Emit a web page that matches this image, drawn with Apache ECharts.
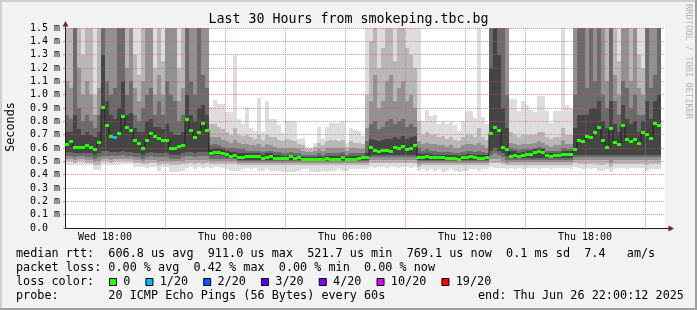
<!DOCTYPE html>
<html><head><meta charset="utf-8">
<script src="https://cdn.jsdelivr.net/npm/echarts@6/dist/echarts.min.js"></script>
<style>html,body{margin:0;padding:0;background:#f2f2f2}#c{width:697px;height:310px}</style>
</head><body><div id="c"></div>
<script>
// ---- data: one column = 12 minutes, starting Wed 16:00 ----
const median = [0.63,0.653,0.61,0.61,0.61,0.625,0.607,0.59,0.645,0.911,
 0.775,0.69,0.685,0.715,0.842,0.757,0.735,0.66,0.64,0.60,
 0.66,0.71,0.69,0.677,0.657,0.657,0.60,0.60,0.615,0.625,
 0.817,0.735,0.68,0.72,0.787,0.735,0.56,0.57,0.57,0.56,
 0.558,0.543,0.548,0.535,0.532,0.537,0.537,0.537,0.537,0.522,
 0.535,0.537,0.522,0.522,0.522,0.522,0.537,0.525,0.532,0.52,
 0.52,0.52,0.52,0.518,0.52,0.522,0.52,0.52,0.52,0.532,
 0.52,0.518,0.52,0.522,0.532,0.53,0.61,0.585,0.578,0.583,
 0.588,0.578,0.605,0.603,0.615,0.593,0.598,0.622,0.535,0.535,
 0.537,0.532,0.53,0.53,0.532,0.527,0.525,0.525,0.521,0.53,
 0.532,0.537,0.53,0.525,0.525,0.532,0.71,0.76,0.735,0.61,
 0.59,0.537,0.55,0.543,0.55,0.555,0.555,0.57,0.578,0.57,
 0.545,0.543,0.55,0.55,0.557,0.557,0.557,0.59,0.66,0.65,
 0.69,0.682,0.72,0.757,0.662,0.61,0.752,0.647,0.632,0.77,
 0.665,0.655,0.667,0.637,0.72,0.707,0.677,0.785,0.769];
const loss = [0,0,0,0,0,0,0,0,0,0, 0,0,1,0,0,0,0,0,0,0, 0,0,0,0,0,0,0,0,0,0,
 0,0,0,0,0,0,0,0,0,0, 0,0,0,0,0,0,0,0,0,0, 0,0,0,0,0,0,0,0,0,0,
 0,0,0,0,0,0,0,0,0,0, 0,0,0,0,0,0,0,0,0,0, 0,0,0,0,0,0,0,0,0,0,
 0,0,0,0,0,0,0,0,0,0, 0,0,0,0,0,0,0,0,0,0, 0,0,0,0,0,0,0,0,0,0,
 0,0,0,0,0,0,0,0,0,0, 0,0,0,0,0,0,0,0,0,0, 0,0,0,0,0,0,0,0,0];
// smoke bands, outermost (1, lightest) to innermost (5, darkest): upper edges
const hi1 = [1.5,1.5,1.5,1.5,1.5,1.5,1.5,1.5,1.5,1.5,
 1.5,1.5,1.5,1.5,1.5,1.5,1.5,1.5,1.5,1.5,
 1.5,1.5,1.5,1.5,1.5,1.5,1.5,1.5,1.5,1.5,
 1.5,1.5,1.5,1.5,1.5,1.5,0.905,0.96,0.93,0.93,
 0.87,0.87,1.30,0.82,0.78,0.905,0.75,0.73,0.975,0.72,
 0.95,0.82,0.82,0.77,0.71,0.8,0.8,0.8,0.67,0.675,
 0.61,0.6,0.64,0.755,0.67,0.76,0.79,0.79,0.79,0.8,
 0.64,0.75,0.735,0.73,0.69,1.5,1.5,1.5,1.5,1.5,
 1.5,1.5,1.5,1.5,1.5,1.5,1.5,1.5,1.5,0.805,
 0.885,0.84,0.85,0.78,0.805,0.78,0.805,0.77,0.73,0.805,
 0.88,0.875,0.825,1.5,0.83,0.78,1.5,1.5,1.5,1.5,
 1.5,0.97,0.97,0.88,0.955,0.92,0.885,0.87,0.99,0.99,
 0.88,0.785,0.88,0.88,1.5,0.92,0.9,1.5,1.5,1.5,
 1.5,1.5,1.5,1.5,1.5,1.5,1.5,1.5,1.5,1.5,
 1.5,1.5,1.5,1.5,1.5,1.5,1.5,1.5,1.5];
const hi2 = [1.5,1.5,1.5,1.5,1.3,1.5,1.5,1.0,1.5,1.5,
 1.5,1.5,1.5,1.5,1.5,1.5,1.5,1.3,1.15,1.5,
 1.5,1.5,1.2,1.5,1.25,1.5,1.5,1.5,1.2,1.5,
 1.5,1.5,1.5,1.5,1.5,1.5,0.78,0.78,0.76,0.74,
 0.72,0.7,0.75,0.7,0.69,0.7,0.68,0.67,0.7,0.66,
 0.7,0.68,0.68,0.66,0.65,0.67,0.66,0.65,0.63,0.62,
 0.59,0.59,0.61,0.64,0.62,0.65,0.66,0.66,0.65,0.66,
 0.61,0.65,0.64,0.64,0.63,1.0,1.4,1.5,1.2,1.35,
 1.5,1.5,1.25,1.5,1.5,1.35,1.3,1.2,0.8,0.7,
 0.72,0.7,0.7,0.68,0.69,0.67,0.68,0.66,0.65,0.68,
 0.7,0.7,0.68,0.75,0.68,0.66,1.5,1.5,1.5,1.5,
 1.5,0.72,0.7,0.68,0.7,0.7,0.7,0.7,0.72,0.72,
 0.68,0.67,0.68,0.68,0.75,0.7,0.7,1.5,1.5,1.5,
 1.5,1.5,1.5,1.5,1.5,1.5,1.5,1.5,1.25,1.5,
 1.5,1.5,1.5,1.3,1.2,1.5,1.5,1.5,1.5];
const hi3 = [1.1,1.05,1.5,1.2,1.0,1.1,1.0,0.85,1.05,1.5,
 1.5,1.5,1.5,1.5,1.5,1.2,1.5,1.05,0.95,1.1,
 1.5,1.5,1.0,1.15,1.0,1.5,1.5,1.5,0.95,1.05,
 1.5,1.5,1.5,1.5,1.5,1.5,0.68,0.68,0.68,0.66,
 0.65,0.64,0.66,0.64,0.63,0.63,0.62,0.62,0.63,0.61,
 0.63,0.62,0.61,0.6,0.6,0.6,0.6,0.6,0.59,0.58,
 0.57,0.57,0.58,0.59,0.58,0.6,0.6,0.6,0.6,0.6,
 0.58,0.6,0.6,0.59,0.59,0.75,0.95,1.15,0.9,0.95,
 1.1,1.15,0.95,1.05,1.1,0.95,1.0,0.9,0.65,0.63,
 0.64,0.63,0.63,0.62,0.62,0.61,0.62,0.6,0.6,0.62,
 0.63,0.63,0.62,0.64,0.62,0.6,1.5,1.5,1.5,1.5,
 1.5,0.64,0.63,0.62,0.63,0.63,0.63,0.64,0.65,0.64,
 0.62,0.61,0.62,0.62,0.66,0.63,0.63,1.5,1.5,1.5,
 1.5,1.5,1.5,1.5,1.5,1.1,1.5,1.15,1.0,1.5,
 1.5,1.1,1.5,1.05,1.0,1.5,1.5,1.5,1.5];
const hi4 = [0.85,0.82,1.5,0.9,0.8,0.85,0.8,0.75,0.85,1.5,
 1.1,1.0,1.05,1.5,1.5,1.0,1.1,0.85,0.8,0.9,
 1.0,1.05,0.85,0.95,0.85,1.1,1.0,0.95,0.8,0.85,
 1.5,1.1,1.0,1.5,1.15,1.05,0.62,0.63,0.62,0.61,
 0.6,0.6,0.6,0.59,0.59,0.58,0.58,0.58,0.58,0.57,
 0.58,0.58,0.57,0.57,0.56,0.56,0.57,0.56,0.56,0.55,
 0.55,0.55,0.55,0.56,0.55,0.56,0.56,0.56,0.56,0.57,
 0.55,0.56,0.56,0.56,0.56,0.65,0.78,0.8,0.74,0.76,
 0.8,0.82,0.78,0.8,0.82,0.76,0.78,0.76,0.6,0.58,
 0.59,0.58,0.58,0.57,0.57,0.57,0.57,0.56,0.56,0.57,
 0.58,0.58,0.57,0.58,0.57,0.56,1.5,1.5,1.5,1.5,
 1.0,0.6,0.59,0.585,0.59,0.59,0.595,0.6,0.61,0.6,
 0.58,0.58,0.58,0.58,0.6,0.59,0.59,1.0,1.5,1.5,
 1.05,1.5,1.1,1.5,1.0,0.9,1.5,0.95,0.85,1.1,
 1.05,0.9,1.0,0.85,0.85,1.5,1.05,1.15,1.5];
const hi5 = [0.72,0.72,0.85,0.74,0.7,0.72,0.7,0.68,0.72,1.3,
 0.95,0.85,0.82,0.9,1.1,0.85,0.86,0.75,0.72,0.72,
 0.8,0.82,0.76,0.76,0.74,0.78,0.72,0.7,0.7,0.72,
 1.0,0.85,0.8,0.9,0.92,0.85,0.59,0.6,0.6,0.59,
 0.58,0.57,0.57,0.56,0.56,0.56,0.56,0.56,0.56,0.55,
 0.56,0.56,0.55,0.55,0.54,0.54,0.55,0.54,0.54,0.53,
 0.53,0.53,0.53,0.54,0.53,0.54,0.54,0.54,0.54,0.55,
 0.53,0.54,0.54,0.54,0.54,0.56,0.67,0.66,0.65,0.66,
 0.67,0.67,0.68,0.67,0.69,0.67,0.68,0.69,0.56,0.555,
 0.56,0.555,0.55,0.55,0.55,0.55,0.545,0.545,0.54,0.55,
 0.555,0.555,0.55,0.55,0.55,0.55,1.2,1.5,1.3,0.9,
 0.75,0.575,0.575,0.565,0.57,0.575,0.575,0.59,0.595,0.59,
 0.565,0.56,0.565,0.565,0.575,0.575,0.575,0.75,0.85,0.85,
 0.85,0.9,0.9,0.95,0.8,0.75,0.95,0.78,0.72,0.92,
 0.82,0.78,0.8,0.72,0.8,0.95,0.82,0.95,1.0];
// lower edges
const lo1 = [0.47,0.47,0.47,0.47,0.47,0.47,0.47,0.435,0.435,0.47,
 0.47,0.47,0.47,0.47,0.48,0.48,0.48,0.46,0.46,0.46,
 0.45,0.46,0.46,0.43,0.455,0.455,0.42,0.42,0.42,0.43,
 0.45,0.46,0.44,0.46,0.45,0.46,0.45,0.455,0.455,0.45,
 0.44,0.43,0.43,0.43,0.44,0.45,0.44,0.45,0.43,0.43,
 0.44,0.43,0.43,0.43,0.42,0.42,0.42,0.42,0.425,0.44,
 0.44,0.42,0.42,0.42,0.43,0.42,0.43,0.43,0.44,0.43,
 0.43,0.44,0.44,0.44,0.44,0.44,0.46,0.45,0.46,0.46,
 0.45,0.46,0.46,0.45,0.46,0.46,0.45,0.46,0.43,0.44,
 0.43,0.44,0.43,0.44,0.42,0.43,0.44,0.43,0.42,0.43,
 0.43,0.44,0.44,0.43,0.44,0.44,0.46,0.45,0.45,0.45,
 0.44,0.45,0.44,0.45,0.44,0.45,0.45,0.45,0.44,0.45,
 0.45,0.44,0.45,0.45,0.45,0.45,0.44,0.46,0.45,0.44,
 0.45,0.44,0.45,0.43,0.43,0.44,0.42,0.44,0.45,0.45,
 0.44,0.45,0.45,0.45,0.45,0.43,0.44,0.44,0.44];
const lo2 = [0.5,0.5,0.49,0.5,0.5,0.49,0.49,0.47,0.47,0.5,
 0.5,0.49,0.5,0.5,0.5,0.5,0.5,0.49,0.49,0.48,
 0.48,0.49,0.49,0.47,0.48,0.48,0.47,0.47,0.47,0.48,
 0.48,0.49,0.48,0.49,0.48,0.49,0.48,0.48,0.48,0.48,
 0.48,0.48,0.48,0.47,0.47,0.47,0.47,0.47,0.47,0.47,
 0.47,0.47,0.47,0.47,0.47,0.47,0.47,0.47,0.47,0.47,
 0.47,0.47,0.47,0.47,0.47,0.47,0.47,0.47,0.47,0.47,
 0.47,0.47,0.47,0.47,0.47,0.47,0.49,0.49,0.49,0.49,
 0.49,0.49,0.49,0.49,0.49,0.49,0.49,0.49,0.46,0.47,
 0.47,0.47,0.47,0.47,0.47,0.47,0.47,0.47,0.47,0.47,
 0.47,0.47,0.47,0.47,0.47,0.47,0.49,0.49,0.49,0.48,
 0.47,0.475,0.475,0.475,0.475,0.475,0.475,0.475,0.475,0.475,
 0.475,0.475,0.475,0.475,0.475,0.475,0.475,0.49,0.48,0.48,
 0.48,0.48,0.48,0.47,0.47,0.48,0.46,0.48,0.48,0.48,
 0.48,0.48,0.48,0.48,0.48,0.47,0.48,0.48,0.48];
const lo3 = [0.52,0.52,0.51,0.52,0.52,0.51,0.51,0.5,0.5,0.52,
 0.52,0.51,0.52,0.52,0.52,0.52,0.52,0.51,0.51,0.5,
 0.51,0.51,0.51,0.5,0.5,0.5,0.5,0.5,0.5,0.5,
 0.51,0.51,0.51,0.51,0.51,0.51,0.5,0.5,0.5,0.5,
 0.5,0.5,0.5,0.49,0.49,0.49,0.49,0.49,0.49,0.49,
 0.49,0.49,0.49,0.49,0.49,0.49,0.49,0.49,0.49,0.49,
 0.49,0.49,0.49,0.49,0.49,0.49,0.49,0.49,0.49,0.49,
 0.49,0.49,0.49,0.49,0.49,0.49,0.51,0.51,0.51,0.51,
 0.51,0.51,0.51,0.51,0.51,0.51,0.51,0.51,0.48,0.49,
 0.49,0.49,0.49,0.49,0.49,0.49,0.49,0.49,0.49,0.49,
 0.49,0.49,0.49,0.49,0.49,0.49,0.52,0.52,0.52,0.5,
 0.49,0.495,0.495,0.495,0.495,0.495,0.495,0.495,0.495,0.495,
 0.495,0.495,0.495,0.495,0.495,0.495,0.495,0.51,0.51,0.51,
 0.51,0.51,0.51,0.51,0.51,0.51,0.49,0.51,0.51,0.51,
 0.51,0.51,0.51,0.51,0.51,0.51,0.51,0.51,0.51];
const lo4 = [0.54,0.54,0.53,0.54,0.54,0.53,0.53,0.52,0.53,0.54,
 0.54,0.54,0.54,0.54,0.55,0.54,0.54,0.53,0.53,0.52,
 0.53,0.54,0.53,0.53,0.53,0.53,0.52,0.52,0.52,0.53,
 0.54,0.54,0.53,0.54,0.54,0.54,0.515,0.515,0.515,0.515,
 0.515,0.515,0.515,0.5,0.5,0.5,0.5,0.5,0.5,0.5,
 0.5,0.5,0.5,0.5,0.5,0.5,0.5,0.5,0.5,0.5,
 0.5,0.5,0.5,0.5,0.5,0.5,0.5,0.5,0.5,0.5,
 0.5,0.5,0.5,0.5,0.5,0.5,0.53,0.53,0.53,0.53,
 0.53,0.53,0.53,0.53,0.53,0.53,0.53,0.53,0.5,0.5,
 0.5,0.5,0.5,0.5,0.5,0.5,0.5,0.5,0.5,0.5,
 0.5,0.5,0.5,0.5,0.5,0.5,0.55,0.56,0.55,0.53,
 0.51,0.51,0.51,0.51,0.51,0.51,0.51,0.51,0.51,0.51,
 0.51,0.51,0.51,0.51,0.51,0.51,0.51,0.53,0.53,0.53,
 0.53,0.53,0.53,0.53,0.53,0.53,0.53,0.53,0.53,0.53,
 0.53,0.53,0.53,0.53,0.53,0.53,0.53,0.53,0.53];
const lo5 = [0.57,0.57,0.56,0.56,0.56,0.56,0.56,0.55,0.56,0.58,
 0.58,0.57,0.57,0.57,0.58,0.57,0.57,0.56,0.56,0.55,
 0.56,0.57,0.56,0.56,0.56,0.56,0.55,0.55,0.55,0.56,
 0.57,0.57,0.56,0.57,0.57,0.57,0.54,0.55,0.55,0.54,
 0.535,0.525,0.525,0.51,0.51,0.51,0.51,0.51,0.51,0.51,
 0.51,0.51,0.51,0.51,0.51,0.51,0.51,0.51,0.51,0.51,
 0.51,0.51,0.51,0.51,0.51,0.51,0.51,0.51,0.51,0.51,
 0.51,0.51,0.51,0.51,0.51,0.51,0.55,0.55,0.55,0.55,
 0.55,0.55,0.55,0.55,0.55,0.55,0.55,0.55,0.51,0.51,
 0.51,0.51,0.51,0.51,0.51,0.51,0.51,0.51,0.51,0.51,
 0.51,0.51,0.51,0.51,0.51,0.51,0.58,0.6,0.58,0.56,
 0.54,0.525,0.525,0.525,0.525,0.525,0.525,0.525,0.525,0.525,
 0.525,0.525,0.525,0.525,0.525,0.525,0.525,0.55,0.55,0.55,
 0.55,0.55,0.55,0.55,0.55,0.55,0.55,0.55,0.55,0.55,
 0.55,0.55,0.55,0.55,0.55,0.55,0.55,0.55,0.55];
// axis ticks
const xTickHours = [2, 8, 14, 20, 26];
const xTickLabels = ['Wed 18:00', 'Thu 00:00', 'Thu 06:00', 'Thu 12:00', 'Thu 18:00'];
const xMajorHours = [2, 5, 8, 11, 14, 17, 20, 23, 26, 29];
const yTickLabels = ['0.0  ','0.1 m','0.2 m','0.3 m','0.4 m','0.5 m','0.6 m','0.7 m','0.8 m','0.9 m','1.0 m','1.1 m','1.2 m','1.3 m','1.4 m','1.5 m'];
// loss legend
const lossLevels = [0, 1, 2, 3, 4, 10, 19];
const lossLabels = ['0', '1/20', '2/20', '3/20', '4/20', '10/20', '19/20'];
const lossColors = ['#26ff00', '#00b8ff', '#0059ff', '#5e00ff', '#7e00ff', '#dd00ff', '#ff0000'];
// texts
const titleText = 'Last 30 Hours from smokeping.tbc.bg';
const legendLines = [
  'median rtt:  606.8 us avg  911.0 us max  521.7 us min  769.1 us now  0.1 ms sd  7.4   am/s',
  'packet loss: 0.00 % avg  0.42 % max  0.00 % min  0.00 % now',
  'loss color:',
  'probe:       20 ICMP Echo Pings (56 Bytes) every 60s'
];
const endText = 'end: Thu Jun 26 22:00:12 2025';

// ---- rendering ----
const STEP_H = 0.2;
const BAND_COLORS = ['#dddddd', '#b7b7b7', '#919191', '#6b6b6b', '#454545'];
const MONO = 'DejaVu Sans Mono';
function lossColor(n) {
  let c = lossColors[0];
  for (let i = 0; i < lossLevels.length; i++) if (n >= lossLevels[i]) c = lossColors[i];
  return c;
}
const smokeData = median.map((m, k) => [k * STEP_H, lo1[k], lo2[k], lo3[k], lo4[k], lo5[k], hi1[k], hi2[k], hi3[k], hi4[k], hi5[k]]);
const medLine = median.map((m, k) => [k * STEP_H, m]);
medLine.push([median.length * STEP_H, median[median.length - 1]]);
const medData = median.map((m, k) => [k * STEP_H, m, loss[k]]);

const chart = echarts.init(document.getElementById('c'), null, { renderer: 'canvas' });

const graphics = [];
// frame shading
graphics.push({ type: 'rect', shape: { x: 0, y: 0, width: 697, height: 2 }, style: { fill: '#cfcfcf' }, z: 100 });
graphics.push({ type: 'rect', shape: { x: 0, y: 0, width: 2, height: 310 }, style: { fill: '#cfcfcf' }, z: 100 });
graphics.push({ type: 'rect', shape: { x: 0, y: 308, width: 697, height: 2 }, style: { fill: '#9e9e9e' }, z: 100 });
graphics.push({ type: 'rect', shape: { x: 695, y: 0, width: 2, height: 310 }, style: { fill: '#9e9e9e' }, z: 100 });
// title
graphics.push({ type: 'text', x: 348.5, y: 19.5, style: { text: titleText, fontFamily: MONO, fontSize: 13.3, fill: '#000', align: 'center', verticalAlign: 'middle' }, z: 100 });
// y name
graphics.push({ type: 'text', x: 11, y: 127, rotation: Math.PI / 2, style: { text: 'Seconds', fontFamily: MONO, fontSize: 11.8, fill: '#000', align: 'center', verticalAlign: 'middle' }, z: 100 });
// credit
graphics.push({ type: 'text', x: 688, y: 4, rotation: -Math.PI / 2, style: { text: 'RRDTOOL / TOBI OETIKER', fontFamily: MONO, fontSize: 8.7, fill: '#b4b4b4', align: 'left', verticalAlign: 'middle' }, z: 100 });
// axis arrows & extensions
graphics.push({ type: 'line', shape: { x1: 65.5, y1: 24, x2: 65.5, y2: 28 }, style: { stroke: '#1f1f1f', lineWidth: 1 }, z: 100 });
graphics.push({ type: 'line', shape: { x1: 665, y1: 228.5, x2: 670, y2: 228.5 }, style: { stroke: '#1f1f1f', lineWidth: 1 }, z: 100 });
graphics.push({ type: 'polygon', shape: { points: [[65.5, 21], [62.5, 26.5], [68.5, 26.5]] }, style: { fill: '#801f1f' }, z: 100 });
graphics.push({ type: 'polygon', shape: { points: [[674, 228.5], [668.5, 225.5], [668.5, 231.5]] }, style: { fill: '#801f1f' }, z: 100 });
// legend lines
const lineY = [254, 268, 282, 296];
legendLines.forEach((t, i) => {
  graphics.push({ type: 'text', x: 16, y: lineY[i], style: { text: t, fontFamily: MONO, fontSize: 11.8, fill: '#000', align: 'left', verticalAlign: 'middle' }, z: 100 });
});
graphics.push({ type: 'text', x: 478, y: lineY[3], style: { text: endText, fontFamily: MONO, fontSize: 11.8, fill: '#000', align: 'left', verticalAlign: 'middle' }, z: 100 });
let bx = 109;
lossLabels.forEach((lab, i) => {
  graphics.push({ type: 'rect', shape: { x: bx + 0.5, y: 278.5, width: 7, height: 7 }, style: { fill: lossColors[i], stroke: '#000', lineWidth: 1 }, z: 100 });
  const lx = bx + 14.3;
  graphics.push({ type: 'text', x: lx, y: lineY[2], style: { text: lab, fontFamily: MONO, fontSize: 11.8, fill: '#000', align: 'left', verticalAlign: 'middle' }, z: 100 });
  bx = lx + lab.length * 7.12 + 15;
});

const option = {
  animation: false,
  backgroundColor: '#f2f2f2',
  grid: { left: 65, top: 28, width: 600, height: 200, show: true, backgroundColor: '#ffffff', borderWidth: 0, containLabel: false, outerBoundsMode: 'none' },
  xAxis: {
    type: 'value', min: 0, max: 30, interval: 1, z: 2,
    axisLine: { show: true, lineStyle: { color: '#1f1f1f', width: 1 } },
    axisTick: { show: true, customValues: xMajorHours, length: 2, lineStyle: { color: 'rgba(222,79,79,0.6)', width: 1 } },
    axisLabel: {
      fontFamily: MONO, fontSize: 10, color: '#000', margin: 4, hideOverlap: false,
      formatter: v => { const i = xTickHours.indexOf(Math.round(v)); return i >= 0 ? xTickLabels[i] : ''; }
    },
    splitLine: { show: true, lineStyle: { color: ['rgba(143,143,143,0.75)', 'rgba(143,143,143,0.75)', 'rgba(222,79,79,0.6)'], type: [1, 1], width: 1 } }
  },
  yAxis: {
    type: 'value', min: 0, max: 1.5, interval: 0.1, z: 2,
    axisLine: { show: true, lineStyle: { color: '#1f1f1f', width: 1 } },
    axisTick: { show: true, length: 2, lineStyle: { color: 'rgba(222,79,79,0.6)', width: 1 } },
    axisLabel: {
      fontFamily: MONO, fontSize: 10, color: '#000', margin: 5,
      formatter: v => yTickLabels[Math.round(v * 10)] || ''
    },
    splitLine: { show: true, lineStyle: { color: 'rgba(222,79,79,0.6)', type: [1, 1], width: 1 } }
  },
  series: [
    {
      type: 'custom', name: 'smoke', z: 1, clip: true, data: smokeData, encode: { x: 0, y: 1 },
      renderItem: (params, api) => {
        const t = api.value(0);
        const xa = api.coord([t, 0])[0], xb = api.coord([t + STEP_H, 0])[0];
        const ch = [];
        for (let b = 0; b < 5; b++) {
          const lo = api.value(1 + b), hi = api.value(6 + b);
          const yt = Math.round(api.coord([t, hi])[1]), yb = Math.round(api.coord([t, lo])[1]);
          ch.push({ type: 'rect', shape: { x: xa, y: yt, width: xb - xa, height: yb - yt }, style: { fill: BAND_COLORS[b] } });
        }
        return { type: 'group', children: ch };
      }
    },
    {
      type: 'line', name: 'median', z: 3, data: medLine, step: 'end', symbol: 'none',
      lineStyle: { color: '#202020', width: 1 }, clip: true
    },
    {
      type: 'custom', name: 'medianLoss', z: 4, clip: true, data: medData, encode: { x: 0, y: 1 },
      renderItem: (params, api) => {
        const t = api.value(0), v = api.value(1), n = api.value(2);
        const p0 = api.coord([t, v]), p1 = api.coord([t + STEP_H, v]);
        const yc = Math.round(p0[1]);
        return { type: 'rect', shape: { x: p0[0], y: yc - 1, width: p1[0] - p0[0], height: 3 }, style: { fill: lossColor(n) } };
      }
    }
  ],
  graphic: graphics
};
chart.setOption(option);
</script></body></html>
